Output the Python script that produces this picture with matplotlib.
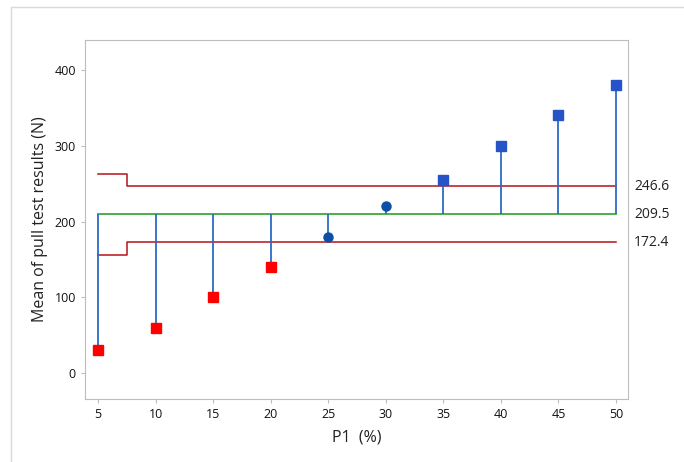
import matplotlib.pyplot as plt
from matplotlib.patches import Rectangle
from matplotlib.transforms import blended_transform_factory

p1_levels = [5, 10, 15, 20, 25, 30, 35, 40, 45, 50]
mean_pull = [30, 60, 100, 140, 180, 220, 255, 300, 340, 380]
upper_limit = [262.8, 246.6, 246.6, 246.6, 246.6, 246.6, 246.6, 246.6, 246.6, 246.6]
lower_limit = [156.2, 172.4, 172.4, 172.4, 172.4, 172.4, 172.4, 172.4, 172.4, 172.4]
center = 209.5
limit_labels = ["246.6", "209.5", "172.4"]

plt.rcParams["font.family"] = ["Open Sans", "DejaVu Sans"]

fig = plt.figure(figsize=(6.84, 4.62), dpi=100)
fig.patches.append(Rectangle((11 / 684, -0.1), 1.2, 1.1 - 7 / 462, transform=fig.transFigure,
                             fill=False, edgecolor="#d9d9d9", linewidth=1))
ax = fig.add_axes([85 / 684, 63 / 462, 543 / 684, 359 / 462])

pos = list(range(1, len(p1_levels) + 1))

ax.step(pos, upper_limit, where="mid", color="#b5121b", linewidth=1.1)
ax.step(pos, lower_limit, where="mid", color="#b5121b", linewidth=1.1)
ax.plot([pos[0], pos[-1]], [center, center], color="#3aaa3a", linewidth=1.3)
ax.vlines(pos, center, mean_pull, color="#2a6cc4", linewidth=1.3)

for x, y, lo, hi in zip(pos, mean_pull, lower_limit, upper_limit):
    if y < lo:
        ax.plot(x, y, marker="s", color="#ff0000", markersize=6.5, linestyle="none")
    elif y > hi:
        ax.plot(x, y, marker="s", color="#2654c8", markersize=6.5, linestyle="none")
    else:
        ax.plot(x, y, marker="o", color="#0d4fa6", markersize=6.5, linestyle="none")

tr = blended_transform_factory(ax.transAxes, ax.transData)
for val, lab in zip([upper_limit[-1], center, lower_limit[-1]], limit_labels):
    ax.text(1.011, val, lab, transform=tr, va="center", ha="left", fontsize=10, color="#222222")

ax.set_xlim(0.77, 10.21)
ax.set_ylim(-34.3, 439.6)
ax.set_xticks(pos)
ax.set_xticklabels([str(v) for v in p1_levels])
ax.set_yticks([0, 100, 200, 300, 400])
ax.tick_params(axis="both", length=3, color="#bdbdbd", labelsize=9, labelcolor="#111111")
for s in ax.spines.values():
    s.set_color("#bdbdbd")
ax.set_xlabel("P1  (%)", fontsize=11.5, color="#222222", labelpad=6)
ax.set_ylabel("Mean of pull test results (N)", fontsize=11.5, color="#222222", labelpad=5)

fig.savefig("out.png", dpi=100)
